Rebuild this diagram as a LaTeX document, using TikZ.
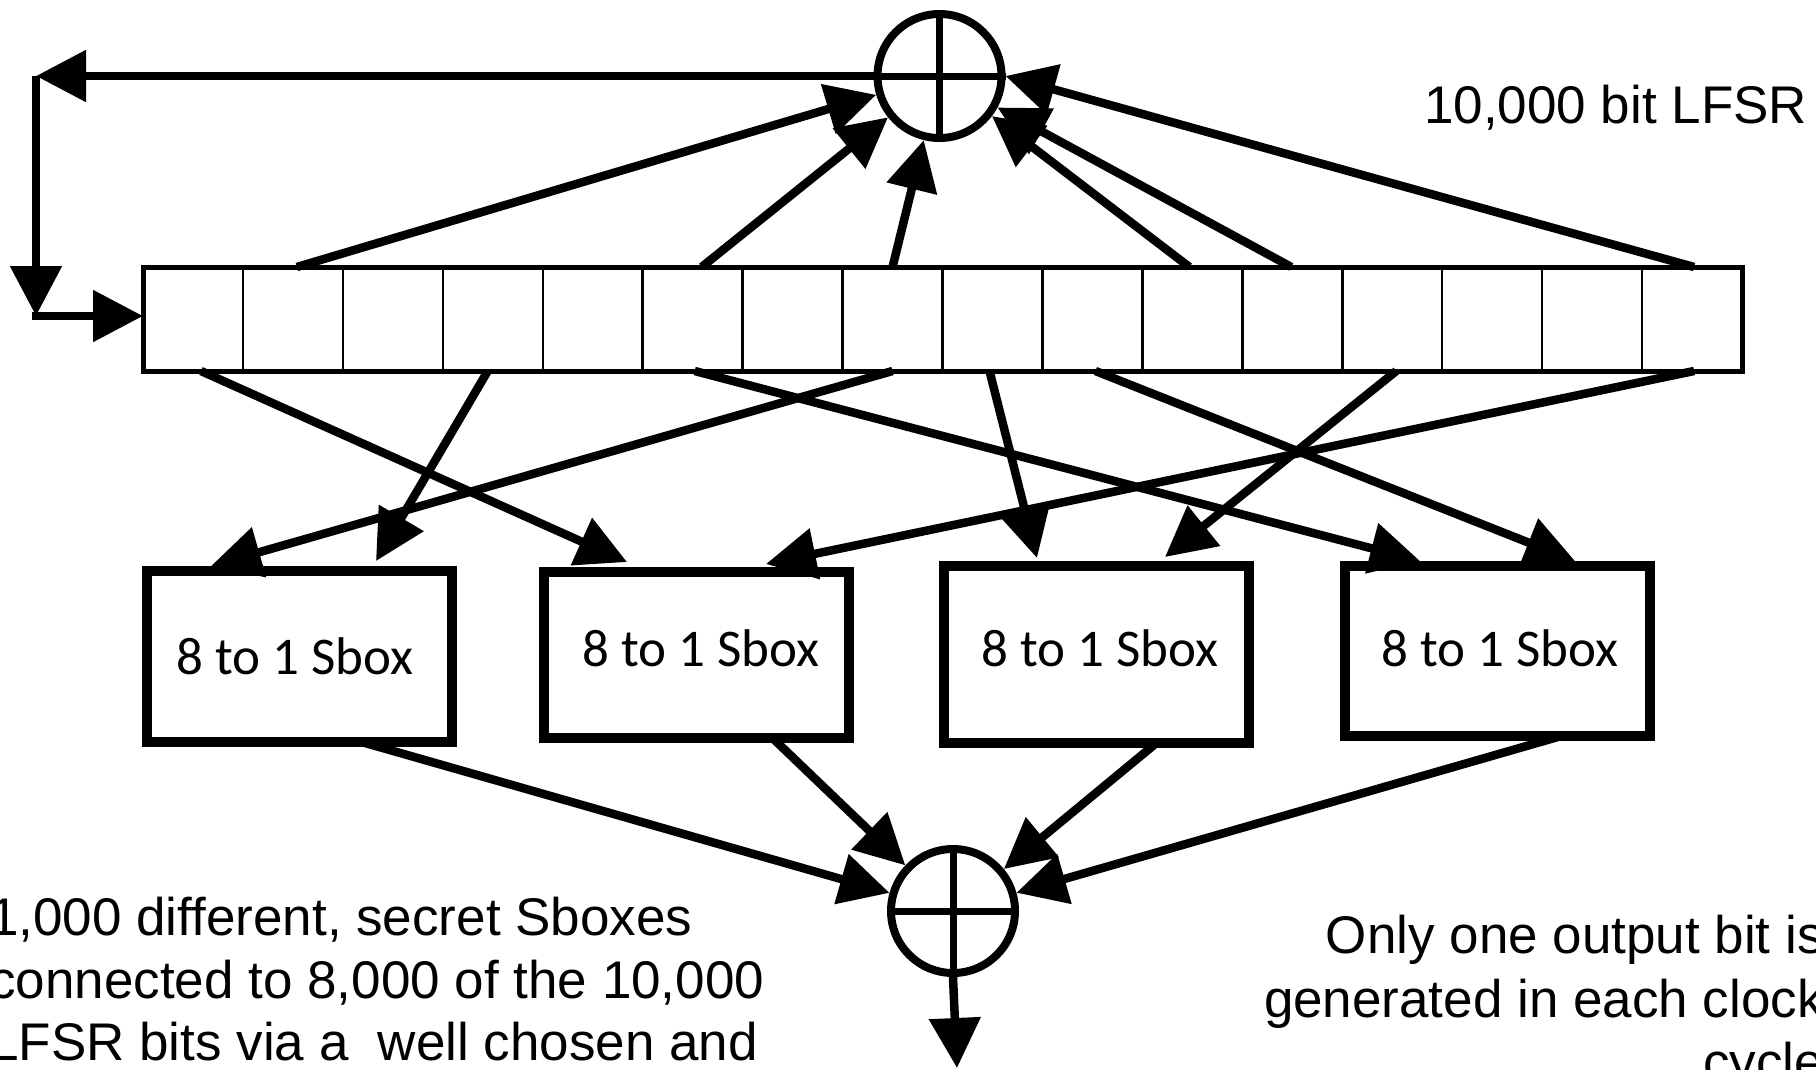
\documentclass[tikz,border=0pt]{standalone}
\usepackage{fontspec}
\setmainfont{Liberation Sans}
\newfontfamily\sboxfont{Carlito}
\usetikzlibrary{arrows.meta,calc}
\begin{document}
\begin{tikzpicture}[x=1pt,y=-1pt,
  arr/.style={line width=8.5pt,-{Triangle[length=50pt,width=50pt]}},
  cell/.style={draw,line width=2.5pt,minimum width=99.94pt,minimum height=104pt,inner sep=0pt,outer sep=0pt},
  lfsrframe/.style={draw,line width=5pt,minimum width=1599pt,minimum height=104pt,inner sep=0pt,outer sep=0pt},
  xorc/.style={draw,circle,line width=8pt,minimum size=124pt,inner sep=0pt},
  cross/.style={line width=7pt},
  sbox/.style={draw,line width=10pt,minimum width=305pt,inner sep=0pt,outer sep=0pt},
  sboxtxt/.style={inner sep=0pt,font=\sboxfont\fontsize{53}{60}\selectfont},
  lbl/.style={inner sep=0pt,font=\fontsize{53}{63}\selectfont}]
\fill[white] (0,0) rectangle (1816,1069);
\useasboundingbox (0,0) rectangle (1816,1069);

% LFSR
\foreach \i in {1,...,16} \node[cell] (c\i) at ({143+(\i-0.5)*99.94},319) {};
\node[lfsrframe] (lfsr) at (942.5,319) {};

% XORs
\node[xorc] (xt) at (939.5,76) {};
\draw[cross] (xt.north) -- (xt.south) (xt.west) -- (xt.east);
\node[xorc] (xb) at (953,911) {};
\draw[cross] (xb.north) -- (xb.south) (xb.west) -- (xb.east);

% Sboxes
\node[sbox,minimum height=171pt] (s1) at (299,656) {};
\node[sbox,minimum height=166pt] (s2) at (696,654.5) {};
\node[sbox,minimum height=177pt] (s3) at (1096.5,654) {};
\node[sbox,minimum height=170pt] (s4) at (1497,650.5) {};
\node[sboxtxt] (s1t) at (295,656) {8 to 1 Sbox};
\node[sboxtxt] (s2t) at (701,648.5) {8 to 1 Sbox};
\node[sboxtxt] (s3t) at (1100,648.5) {8 to 1 Sbox};
\node[sboxtxt] (s4t) at (1500,648.5) {8 to 1 Sbox};

% feedback
\coordinate (fb1) at (36,76);
\coordinate (fb2) at (36,316);
\draw[arr] (xt.west) -- (fb1);
\draw[arr] (fb1) -- (fb2);
\draw[arr] ([xshift=-4pt]fb2) -- (lfsr.west |- fb2);

% taps to top XOR
\draw[arr] ([xshift=4pt]c2.north) -- (xt);
\draw[arr] ([xshift=9pt]c6.north) -- (xt);
\draw[arr] (c8.north) -- (xt);
\draw[arr] ([xshift=-3pt]c11.north) -- (xt);
\draw[arr] ([xshift=-1pt]c12.north) -- (xt);
\draw[arr] ([xshift=2pt]c16.north) -- (xt.east);

% taps to Sboxes
\draw[arr] ([xshift=8pt]c1.south) -- ([xshift=83.5pt,yshift=9.5pt]s2.north west);
\draw[arr] ([xshift=-5pt]c4.south) -- ([xshift=229.5pt,yshift=9.5pt]s1.north west);
\draw[arr] ([xshift=2pt]c6.south) -- ([xshift=75.5pt,yshift=4.5pt]s4.north west);
\draw[arr] (c8.south) -- ([xshift=64.5pt,yshift=4.5pt]s1.north west);
\draw[arr] ([xshift=-3pt]c9.south) -- ([xshift=93pt,yshift=7.5pt]s3.north west);
\draw[arr] ([xshift=3pt]c10.south) -- ([xshift=230.5pt,yshift=4.5pt]s4.north west);
\draw[arr] ([xshift=4pt]c13.south) -- ([xshift=221pt,yshift=8.5pt]s3.north west);
\draw[arr] ([xshift=2pt]c16.south) -- ([xshift=222.5pt,yshift=7.5pt]s2.north west);

% Sboxes to bottom XOR
\draw[arr] ([xshift=61pt]s1.south) -- (xb);
\draw[arr] ([xshift=76pt]s2.south) -- (xb);
\draw[arr] ([xshift=60.5pt]s3.south) -- (xb);
\draw[arr] ([xshift=66pt]s4.south) -- (xb);

% output
\coordinate (out) at (957,1068);
\draw[arr] (xb.south) -- (out);

% texts
\node[lbl,anchor=base west] (lfsrlbl) at (1424,123) {10,000 bit LFSR};
\node[lbl,anchor=base west] (nl1) at (-11,935) {1,000 different, secret Sboxes};
\node[lbl,anchor=base west] (nl2) at (-11,998) {connected to 8,000 of the 10,000};
\node[lbl,anchor=base west] (nl3) at (-11,1060) {LFSR bits via a~ well chosen and};
\node[lbl,anchor=base east] (nr1) at (1824,953) {Only one output bit is};
\node[lbl,anchor=base east] (nr2) at (1824,1017) {generated in each clock};
\node[lbl,anchor=base east] (nr3) at (1824,1080) {cycle};
\end{tikzpicture}
\end{document}
